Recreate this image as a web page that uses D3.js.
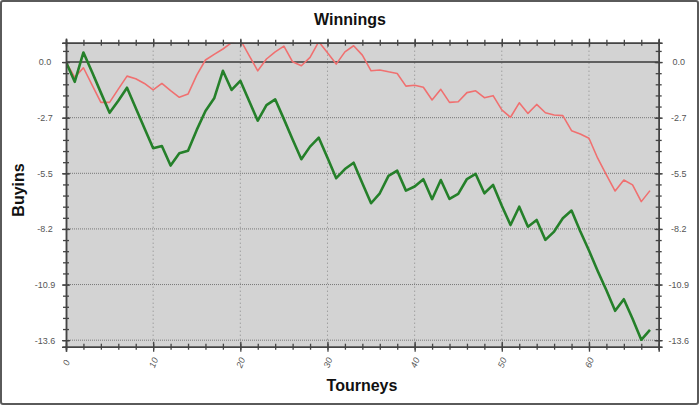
<!DOCTYPE html>
<html><head><meta charset="utf-8">
<script src="https://cdn.jsdelivr.net/npm/d3@7"></script>
<style>
html,body{margin:0;padding:0;background:#fff;}
svg{display:block;font-family:"Liberation Sans",Arial,sans-serif;}
</style></head>
<body>
<svg id="c" width="700" height="406"></svg>
<script>
const tourneys = d3.range(0, 68);
const green = [0, -0.97, 0.47, -0.5, -1.5, -2.49, -1.9, -1.26, -2.25, -3.25,
  -4.23, -4.12, -5.08, -4.48, -4.35, -3.33, -2.40, -1.78, -0.43, -1.37,
  -0.92, -1.9, -2.88, -2.11, -1.83, -2.8, -3.8, -4.77, -4.15, -3.71,
  -4.7, -5.70, -5.25, -4.94, -5.95, -6.93, -6.44, -5.59, -5.33, -6.31,
  -6.11, -5.75, -6.73, -5.79, -6.72, -6.47, -5.74, -5.49, -6.44, -6.03,
  -7.05, -8.0, -7.10, -8.08, -7.75, -8.73, -8.32, -7.67, -7.29, -8.3,
  -9.25, -10.25, -11.2, -12.21, -11.64, -12.6, -13.63, -13.14];
const red = [0, -0.75, -0.28, -1.13, -1.98, -1.98, -1.33, -0.69, -0.82, -1.05,
  -1.37, -1.05, -1.4, -1.73, -1.57, -0.64, 0.1, 0.38, 0.64, 0.95,
  1.1, 0.33, -0.43, 0.15, 0.5, 0.78, 0.01, -0.18, 0.23, 1.0,
  0.46, -0.1, 0.5, 0.8, 0.34, -0.43, -0.39, -0.48, -0.56, -1.18,
  -1.14, -1.24, -1.86, -1.34, -1.98, -1.95, -1.5, -1.41, -1.75, -1.65,
  -2.35, -2.71, -2.0, -2.52, -2.08, -2.49, -2.6, -2.63, -3.37, -3.53,
  -3.74, -4.72, -5.54, -6.33, -5.79, -6.03, -6.85, -6.31];
const yTickValues = [0, -2.73, -5.46, -8.19, -10.92, -13.65];
const yTickLabels = ["0.0", "-2.7", "-5.5", "-8.2", "-10.9", "-13.6"];
const xTickValues = [0, 10, 20, 30, 40, 50, 60];
const xTickLabels = ["0", "10", "20", "30", "40", "50", "60"];

const svg = d3.select("#c");
const L = 66, R = 658.7, T = 42.7, B = 346.7;
const x = d3.scaleLinear().domain([0, 68]).range([L, R]);
const y = d3.scaleLinear().domain([-13.97, 0.95]).range([B, T]);

// outer frame
svg.append("rect").attr("x", 1).attr("y", 1).attr("width", 697).attr("height", 403)
  .attr("rx", 2).attr("fill", "#fff").attr("stroke", "#5a5a5a").attr("stroke-width", 2);

// plot background
svg.append("rect").attr("x", L).attr("y", T).attr("width", R - L).attr("height", B - T)
  .attr("fill", "#d3d3d3");

svg.append("defs").append("clipPath").attr("id", "clip")
  .append("rect").attr("x", L).attr("y", T).attr("width", R - L).attr("height", B - T);

// grid
const grid = svg.append("g");
grid.selectAll("line.h").data(yTickValues.filter(d => d !== 0)).join("line")
  .attr("x1", L).attr("x2", R).attr("y1", d => y(d)).attr("y2", d => y(d))
  .attr("stroke", "#777").attr("stroke-width", 1).attr("stroke-dasharray", "1,1");
grid.selectAll("line.v").data(xTickValues.filter(d => d !== 0)).join("line")
  .attr("y1", T).attr("y2", B).attr("x1", d => x(d)).attr("x2", d => x(d))
  .attr("stroke", "#888").attr("stroke-width", 1).attr("stroke-dasharray", "1,3");
// zero line
grid.append("line").attr("x1", L).attr("x2", R).attr("y1", y(0)).attr("y2", y(0))
  .attr("stroke", "#3a3a3a").attr("stroke-width", 1.5);

// lines
const line = d3.line().x((d, i) => x(tourneys[i])).y(d => y(d));
const lg = svg.append("g").attr("clip-path", "url(#clip)");
lg.append("path").datum(red).attr("d", line).attr("fill", "none")
  .attr("stroke", "#f07070").attr("stroke-width", 1.6).attr("stroke-linejoin", "round");
lg.append("path").datum(green).attr("d", line).attr("fill", "none")
  .attr("stroke", "#25802a").attr("stroke-width", 2.6).attr("stroke-linejoin", "round");

// axes
const yMinor = d3.range(-13.65, 0.96, 0.546);
const xMinor = d3.range(0, 69, 2);
function styleAxis(g) {
  g.select(".domain").attr("stroke", "#444").attr("stroke-width", 1.5);
  g.selectAll(".tick line").attr("stroke", "#444").attr("stroke-width", 1.3);
  g.selectAll("text").attr("fill", "#555").style("font-size", "9px");
}
function crossTicks(g, attr, k) {
  g.selectAll(".tick line").attr(attr, k);
}
// left
const gl = svg.append("g").attr("transform", `translate(${L},0)`);
gl.call(d3.axisLeft(y).tickValues(yMinor).tickSize(3).tickFormat(""));
crossTicks(gl, "x1", 3); styleAxis(gl);
const gl2 = svg.append("g").attr("transform", `translate(${L},0)`);
gl2.call(d3.axisLeft(y).tickValues(yTickValues).tickSize(4).tickPadding(17)
  .tickFormat((d, i) => yTickLabels[i]));
crossTicks(gl2, "x1", 4); styleAxis(gl2);
gl2.selectAll("text").attr("text-anchor", "middle").attr("x", -21);
// right
const gr = svg.append("g").attr("transform", `translate(${R},0)`);
gr.call(d3.axisRight(y).tickValues(yMinor).tickSize(3).tickFormat(""));
crossTicks(gr, "x1", -3); styleAxis(gr);
const gr2 = svg.append("g").attr("transform", `translate(${R},0)`);
gr2.call(d3.axisRight(y).tickValues(yTickValues).tickSize(4)
  .tickFormat((d, i) => yTickLabels[i]));
crossTicks(gr2, "x1", -4); styleAxis(gr2);
gr2.selectAll("text").attr("text-anchor", "middle").attr("x", 20);
// bottom
const gb = svg.append("g").attr("transform", `translate(0,${B})`);
gb.call(d3.axisBottom(x).tickValues(xMinor).tickSize(3).tickFormat(""));
crossTicks(gb, "y1", -3); styleAxis(gb);
const gb2 = svg.append("g").attr("transform", `translate(0,${B})`);
gb2.call(d3.axisBottom(x).tickValues(xTickValues).tickSize(5)
  .tickFormat((d, i) => xTickLabels[i]));
crossTicks(gb2, "y1", -5); styleAxis(gb2);
gb2.selectAll("text").attr("y", 0).attr("dy", null)
  .attr("text-anchor", "middle").attr("dominant-baseline", "central")
  .attr("transform", "translate(0,16) rotate(-68)").style("font-style", "italic");
// top
const gt = svg.append("g").attr("transform", `translate(0,${T})`);
gt.call(d3.axisTop(x).tickValues(xMinor).tickSize(3).tickFormat(""));
crossTicks(gt, "y1", 3); styleAxis(gt);
const gt2 = svg.append("g").attr("transform", `translate(0,${T})`);
gt2.call(d3.axisTop(x).tickValues(xTickValues).tickSize(4).tickFormat(""));
crossTicks(gt2, "y1", 4); styleAxis(gt2);

// titles
svg.append("text").attr("x", 350).attr("y", 25).attr("text-anchor", "middle")
  .style("font-size", "16px").style("font-weight", "bold").attr("fill", "#111").text("Winnings");
svg.append("text").attr("x", 362).attr("y", 391).attr("text-anchor", "middle")
  .style("font-size", "16px").style("font-weight", "bold").attr("fill", "#111").text("Tourneys");
svg.append("text").attr("transform", "translate(24,190) rotate(-90)").attr("text-anchor", "middle")
  .style("font-size", "16px").style("font-weight", "bold").attr("fill", "#111").text("Buyins");
</script>
</body></html>
